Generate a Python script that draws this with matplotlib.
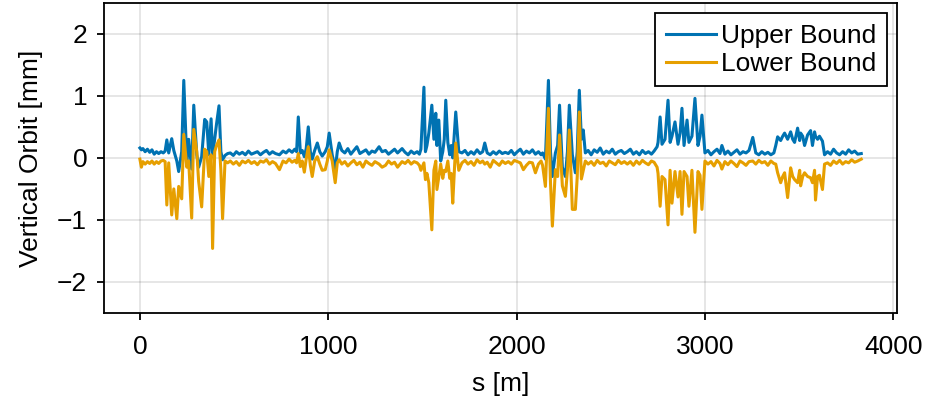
import matplotlib
matplotlib.use("Agg")
import matplotlib.pyplot as plt

plt.rcParams['font.family'] = ['Liberation Sans', 'DejaVu Sans']

# positions along the ring [m]
s = [0, 8, 16, 28, 40, 52, 64, 76, 88, 100, 112, 124, 134, 143, 153, 169, 180, 196, 206, 222,
     233, 249, 259, 275, 286, 302, 312, 328, 344, 355, 366, 378, 386, 397, 407, 420, 430, 439, 452, 466,
     480, 496, 512, 528, 544, 560, 576, 592, 608, 624, 640, 656, 672, 688, 704, 720, 741, 760, 776, 792,
     808, 822, 832, 841, 852, 862, 873, 883, 894, 905, 915, 928, 942, 955, 968, 984, 995, 1005, 1021, 1037,
     1048, 1058, 1072, 1088, 1104, 1120, 1136, 1152, 1168, 1184, 1200, 1216, 1232, 1248, 1270, 1286,
     1304, 1320, 1336, 1352, 1368, 1392, 1408, 1424, 1440, 1456, 1472, 1484, 1492, 1508, 1516, 1524, 1534, 1550,
     1561, 1571, 1577, 1587, 1597, 1608, 1616, 1624, 1635, 1645, 1653, 1661, 1677, 1693, 1710, 1726, 1742, 1758,
     1774, 1790, 1806, 1820, 1831, 1844, 1860, 1876, 1892, 1908, 1924, 1940,
     1956, 1972, 1988, 2004, 2020, 2036, 2052, 2068, 2084, 2100, 2116, 2130, 2138, 2153, 2169, 2180, 2190, 2206,
     2218, 2228, 2243, 2259, 2270, 2280, 2296, 2312, 2322, 2333, 2344, 2354, 2365, 2380, 2396, 2412, 2428, 2444,
     2460, 2476, 2492, 2508, 2524, 2540, 2556, 2572, 2588,
     2604, 2620, 2636, 2652, 2668, 2684, 2700, 2716, 2730, 2746, 2751, 2762, 2772, 2788, 2804, 2815, 2825, 2841,
     2857, 2868, 2878, 2889, 2905, 2915, 2931, 2947, 2963, 2974, 2984, 3000, 3016, 3032, 3048, 3064, 3080, 3090,
     3106, 3122, 3138, 3154, 3170, 3186, 3202, 3218, 3234,
     3254, 3270, 3286, 3302, 3318, 3334, 3350, 3366, 3376, 3386, 3402, 3413, 3423, 3439, 3455, 3466, 3476, 3492,
     3503, 3508, 3519, 3529, 3545, 3561, 3571, 3582, 3587, 3598, 3608, 3624, 3635, 3651, 3667, 3683, 3699, 3715,
     3731, 3747, 3763, 3779, 3795, 3811, 3830]

# upper bound of vertical orbit [mm]
upper = [0.16, 0.13, 0.15, 0.10, 0.14, 0.09, 0.13, 0.06, 0.10, 0.07, 0.10, 0.08, 0.11, 0.29, 0.08, 0.31, 0.12, -0.05, -0.22, 0.10,
         1.25, -0.05, 0.30, -0.18, 0.85, 0.05, -0.15, 0.02, 0.62, 0.58, 0.05, 0.63, 0.05, 0.30, 0.55, 0.84, 0.10, -0.03, 0.04, 0.07,
         0.08, 0.04, 0.10, 0.06, 0.09, 0.05, 0.11, 0.06, 0.08, 0.10, 0.05, 0.09, 0.12, 0.06, 0.10, 0.07, 0.05, 0.11, 0.08, 0.13,
         0.09, 0.14, 0.10, 0.66, 0.08, 0.12, 0.02, 0.15, 0.50, 0.10, -0.02, 0.12, 0.24, 0.10, 0.03, 0.10, 0.18, 0.40, 0.05, -0.19,
         0.10, 0.24, 0.12, 0.08, 0.15, 0.06, 0.12, 0.18, 0.07, 0.10, 0.13, 0.06, 0.11, 0.09, 0.18, 0.10,
         0.12, 0.06, 0.10, 0.14, 0.08, 0.15, 0.09, 0.05, 0.11, 0.07, 0.10, 0.06, 0.14, 1.14, 0.10, 0.20, 0.40, 0.85,
         0.30, 0.72, 0.20, 0.61, -0.05, 0.10, 0.30, 0.93, 0.25, 0.05, 0.20, 0.00, 0.74, 0.10, 0.08, 0.12, 0.05, 0.10,
         0.06, 0.13, 0.07, 0.10, 0.24, 0.08, 0.05, 0.10, 0.06, 0.11, 0.07, 0.09,
         0.07, 0.12, 0.05, 0.10, 0.14, 0.06, 0.11, 0.08, 0.13, 0.06, 0.10, 0.05, 0.08, -0.02, 1.25, 0.10, -0.30, 0.08,
         0.20, 0.85, -0.15, -0.30, 0.10, 0.85, 0.05, -0.24, 0.10, 1.09, 0.30, 0.45, 0.08, 0.12, 0.05, 0.13, 0.09, 0.16,
         0.06, 0.11, 0.08, 0.14, 0.06, 0.10, 0.12, 0.07, 0.10,
         0.14, 0.06, 0.10, 0.05, 0.12, 0.07, 0.10, 0.06, 0.11, 0.18, 0.25, 0.66, 0.22, 0.30, 0.93, 0.25, 0.35, 0.58,
         0.22, 0.40, 0.80, 0.20, 0.61, 0.25, 0.35, 0.96, 0.20, 0.35, 0.69, 0.08, 0.12, 0.05, 0.10, 0.14, 0.07, 0.20,
         0.06, 0.11, 0.05, 0.09, 0.13, 0.06, 0.10, 0.08, 0.12,
         0.33, 0.08, 0.05, 0.10, 0.06, 0.09, 0.05, 0.08, 0.20, 0.34, 0.28, 0.35, 0.40, 0.30, 0.42, 0.30, 0.25, 0.48,
         0.28, 0.40, 0.35, 0.20, 0.37, 0.44, 0.20, 0.42, 0.35, 0.30, 0.35, 0.27, 0.05, 0.10, 0.06, 0.14, 0.08, 0.05,
         0.10, 0.06, 0.13, 0.08, 0.11, 0.06, 0.07]

# lower bound of vertical orbit [mm]
lower = [-0.02, -0.15, -0.06, -0.10, -0.06, -0.09, -0.05, -0.10, -0.06, -0.09, -0.05, -0.04, -0.06, -0.76, -0.08, -0.92, -0.50, -0.98, -0.46, -0.66,
         0.38, -0.15, -0.05, -0.97, 0.46, 0.10, -0.38, -0.79, 0.14, 0.10, -0.30, 0.05, -1.46, 0.10, 0.20, 0.29, -0.20, -0.98, -0.05, -0.08,
         -0.05, -0.10, -0.06, -0.12, -0.05, -0.08, -0.04, -0.09, -0.06, -0.11, -0.05, -0.07, -0.03, -0.10, -0.06, -0.09, -0.19, -0.05, -0.08, -0.02,
         -0.07, -0.04, -0.08, 0.07, -0.14, -0.05, -0.23, -0.02, 0.18, -0.12, -0.30, -0.05, 0.02, -0.10, -0.20, -0.19, -0.05, 0.13, -0.05, -0.40,
         -0.08, -0.03, -0.10, -0.06, -0.13, -0.08, -0.04, -0.11, -0.07, -0.15, -0.05, -0.09, -0.12, -0.06, -0.10, -0.15,
         -0.12, -0.05, -0.10, -0.07, -0.15, -0.06, -0.09, -0.04, -0.10, -0.06, -0.08, -0.12, -0.20, -0.08, -0.35, -0.25, -0.40, -1.16,
         -0.20, -0.05, -0.51, -0.30, -0.10, -0.33, -0.20, -0.22, -0.05, -0.33, -0.25, -0.73, 0.24, -0.20, -0.08, -0.04, -0.10, -0.06,
         -0.12, -0.03, -0.08, -0.05, -0.10, -0.07, -0.15, -0.04, -0.08, -0.12, -0.05, -0.09,
         -0.06, -0.10, -0.04, -0.06, -0.08, -0.19, -0.12, -0.07, -0.08, -0.24, -0.10, -0.05, -0.12, -0.46, 0.80, -0.40, -1.10, -0.19,
         -0.30, 0.37, -0.45, -0.62, -0.20, 0.45, -0.83, -0.83, -0.30, 0.74, -0.34, -0.20, -0.05, -0.10, -0.06, -0.12, -0.04, -0.09,
         -0.07, -0.13, -0.05, -0.08, -0.11, -0.04, -0.09, -0.06, -0.10,
         -0.06, -0.12, -0.05, -0.10, -0.04, -0.08, -0.11, -0.05, -0.07, -0.15, -0.25, -0.78, -0.30, -0.35, -1.08, -0.20, -0.73, -0.22,
         -0.63, -0.22, -0.91, -0.22, -0.30, -0.78, -0.20, -1.20, -0.22, -0.28, -0.83, -0.05, -0.10, -0.06, -0.13, -0.04, -0.09, -0.18,
         -0.06, -0.11, -0.05, -0.09, -0.14, -0.05, -0.08, -0.12, -0.06,
         -0.05, -0.10, -0.04, -0.08, -0.06, -0.12, -0.05, -0.09, -0.10, -0.24, -0.40, -0.30, -0.24, -0.64, -0.16, -0.30, -0.35, -0.40,
         -0.20, -0.45, -0.30, -0.24, -0.30, -0.32, -0.40, -0.20, -0.68, -0.30, -0.28, -0.51, -0.10, -0.08, -0.12, -0.05, -0.09, -0.04,
         -0.10, -0.06, -0.08, -0.03, -0.07, -0.05, -0.02]

xticks = [0, 1000, 2000, 3000, 4000]
yticks = [-2, -1, 0, 1, 2]

fs = 19
fig = plt.figure(figsize=(9.27, 4.08), dpi=100)
ax = fig.add_axes([0.112, 0.233, 0.856, 0.760])

ax.plot(s, upper, color='#0072B2', lw=2.2, label='Upper Bound')
ax.plot(s, lower, color='#E69F00', lw=2.2, label='Lower Bound')

ax.set_xlim(-191.5, 4021.5)
ax.set_ylim(-2.5, 2.5)
ax.set_xticks(xticks)
ax.set_yticks(yticks)
ax.grid(True, color='black', alpha=0.13, lw=1.1)
ax.set_axisbelow(True)
for sp in ax.spines.values():
    sp.set_linewidth(1.3)
ax.tick_params(direction='out', length=5, width=1.3, labelsize=fs)
ax.tick_params(axis='x', pad=11)
ax.tick_params(axis='y', pad=7)

ax.set_xlabel('s [m]', fontsize=fs, labelpad=9)
ax.set_ylabel('Vertical Orbit [mm]', fontsize=fs, labelpad=10)

leg = ax.legend(loc='upper right', fontsize=fs, frameon=True, fancybox=False,
                framealpha=1, edgecolor='black', handlelength=1.9, handletextpad=0.2,
                labelspacing=0.15, borderpad=0.4, borderaxespad=0.4)
leg.get_frame().set_linewidth(1.3)

fig.savefig('out.png', dpi=100)
